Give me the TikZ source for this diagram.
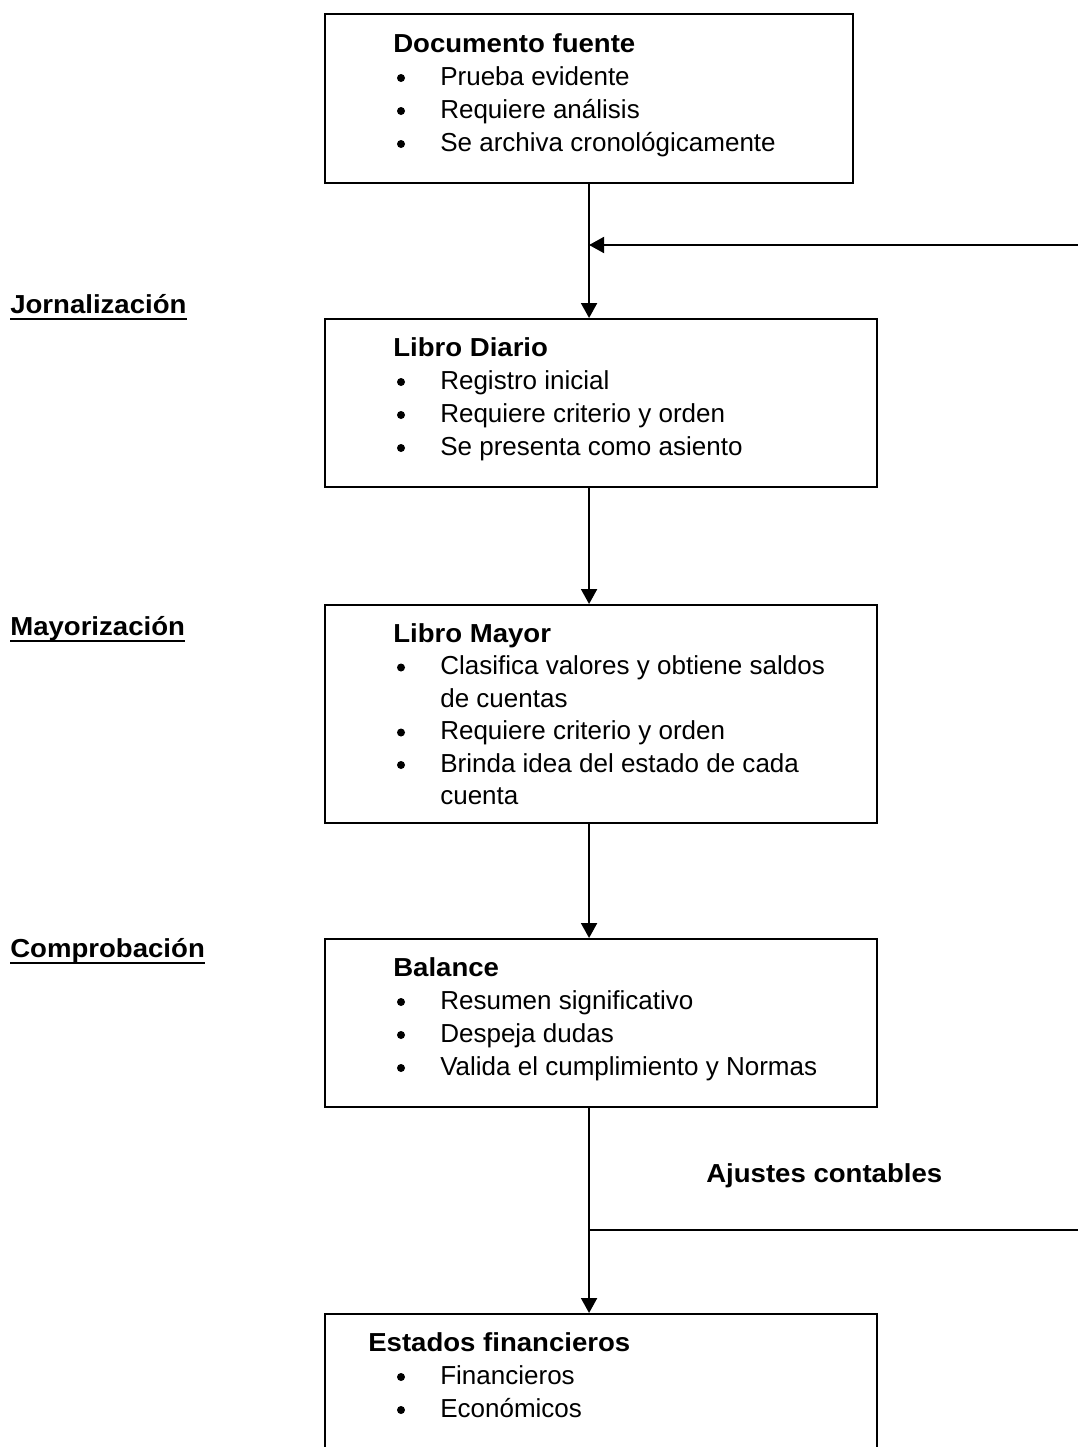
\documentclass[tikz,border=0pt]{standalone}
\usepackage{fontspec}
\setmainfont{Liberation Sans}[BoldFeatures={FakeStretch=1.06}]
\usetikzlibrary{arrows.meta,calc}
\tikzset{>={Triangle[length=0.375cm,width=0.4cm]}}

\tikzset{
  caja/.style={draw, line width=0.05cm, anchor=north west, inner sep=0pt, minimum width=13.8cm},
  titulo/.style={anchor=base west, inner sep=0pt, font=\fontsize{18.5}{22}\selectfont\bfseries},
  renglon/.style={anchor=base west, inner sep=0pt, font=\fontsize{18.5}{22}\selectfont},
  flecha/.style={->, line width=0.05cm},
  raya/.style={line width=0.065cm},
}

\begin{document}
\begin{tikzpicture}[x=0.025cm, y=-0.025cm]

    \clip (0,0) rectangle (1078,1447);

    % cajas
    \node[caja, minimum width=13.2cm, minimum height=4.225cm] (fuente) at (324,13) {};
    \node[caja, minimum height=4.2cm] (diario) at (324,318) {};
    \node[caja, minimum height=5.45cm] (mayor) at (324,604) {};
    \node[caja, minimum height=4.2cm] (balance) at (324,938) {};
    \node[caja, minimum height=5cm] (estados) at (324,1313) {};

    % Documento fuente
    \node[titulo] (fuente-t) at (393,52) {Documento fuente};
    \foreach \t [count=\i] in {Prueba evidente, Requiere análisis, Se archiva cronológicamente}
    {
        \node[renglon] (fuente-\i) at (440,52+33*\i) {\t};
        \fill (401,45+33*\i) circle [radius=0.1cm];
    }

    % Libro Diario
    \node[titulo] (diario-t) at (393,356) {Libro Diario};
    \foreach \t [count=\i] in {Registro inicial, Requiere criterio y orden, Se presenta como asiento}
    {
        \node[renglon] (diario-\i) at (440,356+33*\i) {\t};
        \fill (401,349+33*\i) circle [radius=0.1cm];
    }

    % Libro Mayor
    \node[titulo] (mayor-t) at (393,642) {Libro Mayor};
    \foreach \b/\t [count=\i] in {1/Clasifica valores y obtiene saldos, 0/de cuentas, 1/Requiere criterio y orden, 1/Brinda idea del estado de cada, 0/cuenta}
    {
        \node[renglon] (mayor-\i) at (440,642+32.5*\i) {\t};
        \ifnum\b=1 \fill (401,635+32.5*\i) circle [radius=0.1cm]; \fi
    }

    % Balance
    \node[titulo] (balance-t) at (393,976) {Balance};
    \foreach \t [count=\i] in {Resumen significativo, Despeja dudas, Valida el cumplimiento y Normas}
    {
        \node[renglon] (balance-\i) at (440,976+33*\i) {\t};
        \fill (401,969+33*\i) circle [radius=0.1cm];
    }

    % Estados financieros
    \node[titulo] (estados-t) at (368,1351) {Estados financieros};
    \foreach \t [count=\i] in {Financieros, Económicos}
    {
        \node[renglon] (estados-\i) at (440,1351+33*\i) {\t};
        \fill (401,1344+33*\i) circle [radius=0.1cm];
    }

    % etapas
    \node[titulo] (jorn) at (10,313) {Jornalización};
    \node[titulo] (mayo) at (10,635) {Mayorización};
    \node[titulo] (comp) at (10,957) {Comprobación};
    \node[titulo] (ajus) at (706,1182) {Ajustes contables};
    \foreach \n in {jorn, mayo, comp}
        \draw[raya] ($(\n.base west)+(0,6)$) -- ($(\n.base east)+(0,6)$);

    % flechas
    \coordinate (r1) at (1078,245);
    \coordinate (r2) at (1078,1230);
    \draw[flecha] (fuente.south) -- (fuente.south |- diario.north);
    \draw[flecha] (fuente.south |- diario.south) -- (fuente.south |- mayor.north);
    \draw[flecha] (fuente.south |- mayor.south) -- (fuente.south |- balance.north);
    \draw[flecha] (fuente.south |- balance.south) -- (fuente.south |- estados.north);
    \draw[flecha] (r1) -- (r1 -| fuente.south);
    \draw[line width=0.05cm] (r2) -- (r2 -| fuente.south);

\end{tikzpicture}
\end{document}
